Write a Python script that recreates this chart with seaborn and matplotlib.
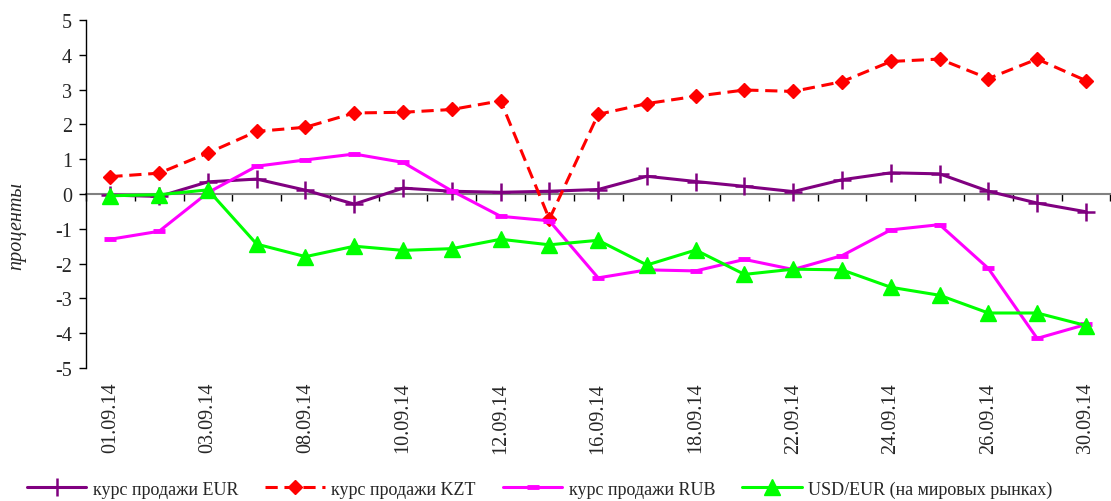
import matplotlib
matplotlib.use("Agg")
import matplotlib.pyplot as plt
import numpy as np
import seaborn as sns

# Data (percent change)
dates = [
    "01.09.14", "02.09.14", "03.09.14", "05.09.14", "08.09.14", "09.09.14",
    "10.09.14", "11.09.14", "12.09.14", "15.09.14", "16.09.14", "17.09.14",
    "18.09.14", "19.09.14", "22.09.14", "23.09.14", "24.09.14", "25.09.14",
    "26.09.14", "29.09.14", "30.09.14",
]
eur = [-0.03, -0.07, 0.35, 0.43, 0.11, -0.29, 0.17, 0.08, 0.05, 0.08, 0.13,
       0.51, 0.36, 0.22, 0.07, 0.41, 0.61, 0.58, 0.08, -0.26, -0.51]
kzt = [0.50, 0.60, 1.18, 1.80, 1.92, 2.33, 2.35, 2.43, 2.68, -0.72, 2.29,
       2.60, 2.81, 2.99, 2.95, 3.23, 3.81, 3.88, 3.32, 3.88, 3.26]
rub = [-1.30, -1.07, 0.04, 0.80, 0.98, 1.15, 0.91, 0.09, -0.64, -0.77, -2.41,
       -2.18, -2.21, -1.88, -2.17, -1.77, -1.03, -0.88, -2.14, -4.15, -3.75]
usd_eur = [-0.05, -0.02, 0.12, -1.44, -1.80, -1.50, -1.62, -1.57, -1.30, -1.46, -1.33,
           -2.04, -1.61, -2.31, -2.16, -2.18, -2.68, -2.91, -3.42, -3.42, -3.78]

labels = ["курс продажи EUR", "курс продажи KZT", "курс продажи RUB",
          "USD/EUR (на мировых рынках)"]

sns.set_style("white")
plt.rcParams["font.family"] = ["Liberation Serif", "DejaVu Serif"]
plt.rcParams["axes.unicode_minus"] = False

pos = np.arange(len(dates))

fig = plt.figure(figsize=(11.11, 5.02), dpi=100)
ax = fig.add_axes([0.0774, 0.265, 0.922, 0.693])

sns.lineplot(x=pos, y=eur, ax=ax, color="#800080", lw=2.2, marker="+",
             ms=13, mec="#800080", mew=1.8, label=labels[0])
sns.lineplot(x=pos, y=kzt, ax=ax, color="#FF0000", lw=2.2, ls=(0, (4, 2.2)),
             marker="D", ms=7, mec="#FF0000", mew=1, label=labels[1])
sns.lineplot(x=pos, y=rub, ax=ax, color="#FF00FF", lw=2.2, marker="_",
             ms=8, mec="#FF00FF", mew=3.5, label=labels[2])
sns.lineplot(x=pos, y=usd_eur, ax=ax, color="#00FF00", lw=2.2, marker="^",
             ms=11, mec="#00FF00", mew=1, label=labels[3])

ax.set_xlim(-0.5, len(dates) - 0.5)
ax.set_ylim(-5, 5)
ax.set_yticks(range(-5, 6))
ax.tick_params(axis="y", length=5, width=1, color="black", labelsize=14.5, pad=5,
               left=True)

# category labels at the bottom, every second date
ax.set_xticks(pos[::2])
ax.set_xticklabels(dates[::2], rotation=90, fontsize=14.5)
ax.tick_params(axis="x", length=0, pad=10)

for side in ["top", "right", "bottom"]:
    ax.spines[side].set_visible(False)
ax.spines["left"].set_color("black")
ax.spines["left"].set_linewidth(1)

# zero line with tick marks between categories
sec = ax.secondary_xaxis(0.5)
sec.set_alignment("bottom")
sec.set_xticks(np.arange(-0.5, len(dates), 1))
sec.tick_params(axis="x", length=5, width=1, color="black", labelbottom=False,
                labeltop=False, direction="out")
sec.spines["bottom"].set_color("#808080")
sec.spines["bottom"].set_linewidth(1.5)

ax.set_xlabel("")
ax.set_ylabel("проценты", fontsize=14.5, fontstyle="italic")
ax.yaxis.set_label_coords(-0.058, 0.41)

handles, labs = ax.get_legend_handles_labels()
ax.get_legend().remove()
fig.legend(handles, labs, loc="center left", bbox_to_anchor=(0.016, 0.024),
           ncol=4, frameon=False, fontsize=13, handlelength=3.3,
           handletextpad=0.35, columnspacing=1.5, borderpad=0)

fig.savefig("out.png", dpi=100)
